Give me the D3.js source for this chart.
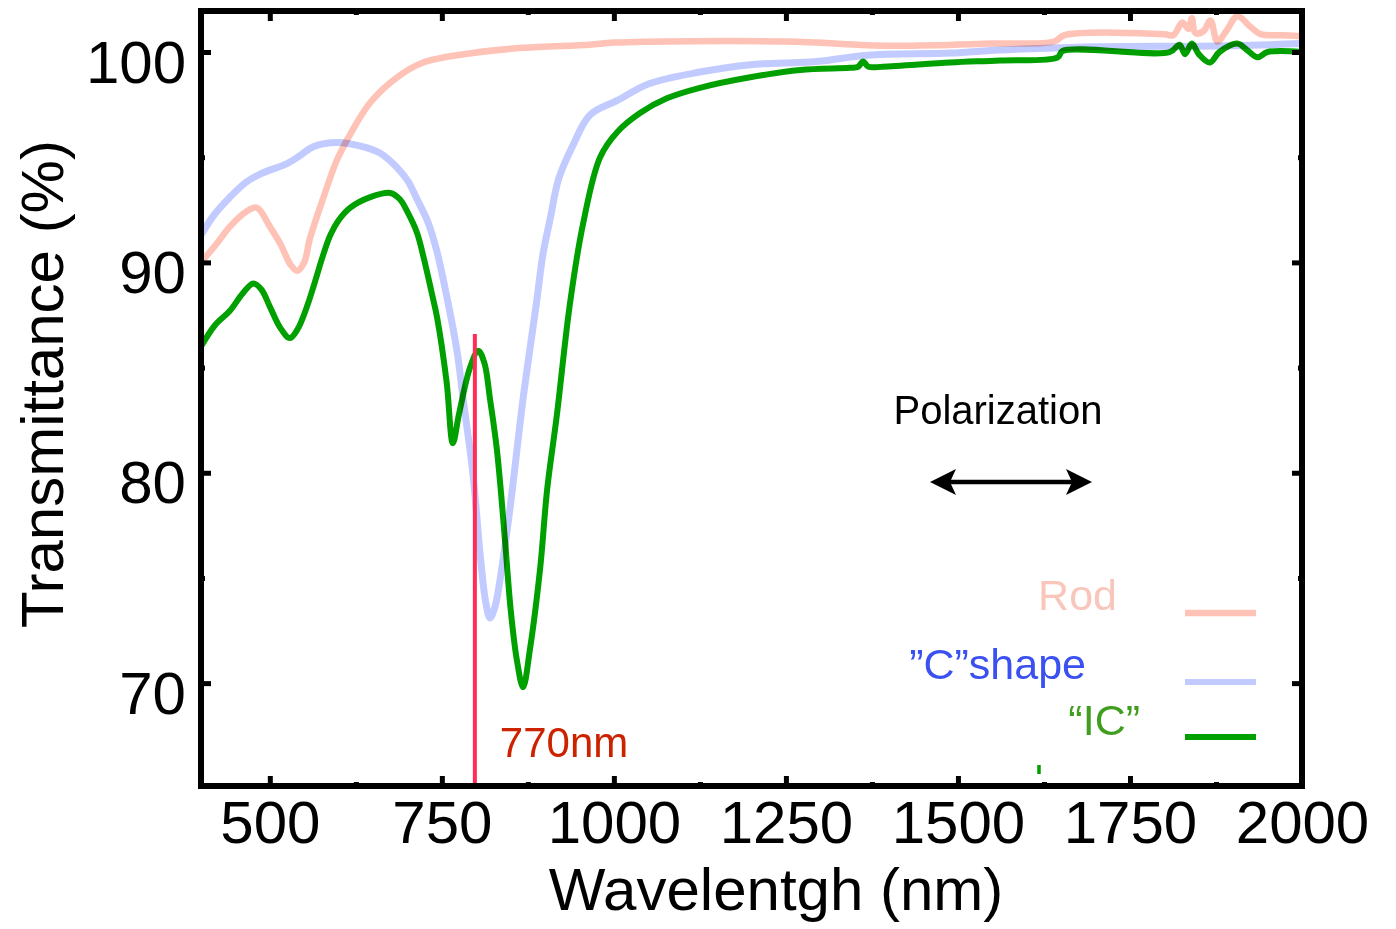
<!DOCTYPE html>
<html>
<head>
<meta charset="utf-8">
<script src="https://cdn.jsdelivr.net/npm/d3@7"></script>
<style>
  body { margin: 0; background: #fff; }
  svg text { font-family: "Liberation Sans", Arial, sans-serif; }
</style>
</head>
<body>
<div id="main"></div>
<script>
// data (wavelength in nm, transmittance in %)
const rodWl = [400, 423, 442, 465, 481, 500, 515, 530, 540, 550, 558, 577, 598, 617, 646, 685, 723, 795, 868, 965,
    1000, 1250, 1400, 1550, 1640, 1655, 1800, 1813, 1826, 1835, 1840, 1845, 1857, 1867, 1877, 1890, 1906, 1925, 1940, 1970, 2000];
const rodT = [90.0, 90.9, 91.7, 92.4, 92.6, 91.7, 90.9, 89.9, 89.6, 90.0, 91.1, 93.0, 94.9, 96.1, 97.6, 98.8, 99.5, 99.95, 100.2, 100.35,
    100.45, 100.5, 100.3, 100.4, 100.5, 100.8, 100.85, 100.8, 101.4, 101.1, 101.6, 100.9, 101.0, 101.5, 100.5, 101.0, 101.7, 101.2, 100.85, 100.8, 100.75];

const cWl = [400, 420, 442, 465, 486, 525, 545, 563, 598, 635, 660, 679, 700, 714, 730, 743, 757, 772, 781, 795,
    806, 814, 820, 827, 835, 849, 868, 888, 897, 907, 920, 941, 965, 1005, 1052, 1125, 1198, 1295, 1368, 1489,
    1560, 1648, 1700, 1900, 2000];
const cT = [91.3, 92.3, 93.1, 93.8, 94.2, 94.7, 95.1, 95.5, 95.7, 95.5, 95.2, 94.7, 93.9, 93.0, 91.9, 90.5, 88.4, 85.8, 83.5, 80.0,
    76.0, 73.8, 73.1, 73.6, 75.0, 78.3, 83.5, 88.2, 90.4, 92.0, 94.0, 95.6, 97.0, 97.7, 98.5, 99.05, 99.4, 99.55, 99.85, 99.95,
    100.1, 100.2, 100.25, 100.3, 100.4];

const icWl = [400, 420, 442, 460, 476, 488, 500, 515, 529, 540, 554, 563, 577, 588, 600, 617, 646, 675, 689, 700, 714,
    723, 737, 743, 757, 766, 775, 791, 803, 812, 820, 830, 842, 850, 859, 868, 878, 893, 903, 917, 936,
    955, 980, 1005, 1038, 1077, 1125, 1198, 1271, 1343, 1355, 1362, 1370, 1391, 1489, 1561, 1645, 1652, 1808, 1822,
    1830, 1840, 1850, 1866, 1880, 1906, 1920, 1935, 1950, 2000];
const icT = [86.0, 87.0, 87.7, 88.5, 89.0, 88.7, 87.9, 86.9, 86.4, 86.8, 87.9, 88.8, 90.3, 91.3, 92.0, 92.6, 93.1, 93.3, 93.0, 92.4, 91.4,
    90.3, 88.3, 87.4, 84.3, 81.4, 82.8, 85.0, 85.8, 85.2, 83.5, 81.1, 76.7, 73.5, 71.1, 69.8, 71.6, 75.5, 79.2, 82.7, 88.0,
    91.8, 95.0, 96.2, 97.1, 97.8, 98.3, 98.8, 99.15, 99.25, 99.3, 99.55, 99.3, 99.3, 99.5, 99.6, 99.75, 100.05, 100.0, 100.35,
    99.9, 100.4, 99.9, 99.5, 100.0, 100.4, 100.1, 99.75, 100.0, 100.0];

const xMajor = [500, 750, 1000, 1250, 1500, 1750, 2000];
const xMinor = [625, 875, 1125, 1375, 1625, 1875];
const yMajor = [70, 80, 90, 100];
const yMinor = [75, 85, 95];

const markerWl = 798, markerTop = 86.6;   // the red "770nm" line

const legendNames = ["Rod", "\u201DC\u201Dshape", "\u201CIC\u201D"];
const legendText = ["#f9c6bc", "#3a50f0", "#3f9e1e"];
const lineColors = ["#ffc2b6", "#c2cbff", "#00a000"];

// dimensions
const svg_width = 1396, svg_height = 929;
const margin = {top: 11, right: 94, bottom: 143, left: 201};
const graph_width = svg_width - margin.left - margin.right,
    graph_height = svg_height - margin.top - margin.bottom;

var svg = d3.select("#main").append("svg")
    .attr("width", svg_width)
    .attr("height", svg_height)
    .append("g")
    .attr("transform", `translate(${margin.left}, ${margin.top})`);

var xScale = d3.scaleLinear().domain([400, 2000]).range([0, graph_width]);
var yScale = d3.scaleLinear().domain([65.11, 101.95]).range([graph_height, 0]);

// clip to the frame
svg.append("defs").append("clipPath").attr("id", "clip")
    .append("rect").attr("width", graph_width).attr("height", graph_height);
var plot = svg.append("g").attr("clip-path", "url(#clip)").style("isolation", "isolate");

var line = d3.line()
    .x(d => xScale(d[0]))
    .y(d => yScale(d[1]))
    .curve(d3.curveCatmullRom.alpha(0.5));

var series = [
    {name: "C", wl: cWl, t: cT, color: lineColors[1], w: 7},
    {name: "Rod", wl: rodWl, t: rodT, color: lineColors[0], w: 6.5},
    {name: "IC", wl: icWl, t: icT, color: lineColors[2], w: 6}
];
series.forEach(function(s) {
    plot.append("path")
        .datum(s.wl.map((w, i) => [w, s.t[i]]))
        .attr("fill", "none")
        .attr("stroke", s.color)
        .attr("stroke-width", s.w)
        .attr("stroke-linejoin", "round")
        .style("mix-blend-mode", "multiply")
        .attr("d", line);
});

// red marker line
svg.append("line")
    .attr("x1", xScale(markerWl)).attr("x2", xScale(markerWl))
    .attr("y1", yScale(markerTop)).attr("y2", graph_height)
    .attr("stroke", "#ff2d55").attr("stroke-width", 4);
svg.append("text")
    .attr("x", xScale(markerWl) + 25).attr("y", 746)
    .attr("font-size", 42).attr("fill", "#cc2200")
    .text("770nm");

// axes: inward ticks on all four sides
function styleAxis(g) {
    g.select(".domain").remove();
    g.selectAll(".tick line").attr("stroke", "#000").attr("stroke-width", 5);
}
svg.append("g").attr("transform", `translate(0,${graph_height})`)
    .call(d3.axisBottom(xScale).tickValues(xMajor).tickSizeInner(-10).tickSizeOuter(0).tickPadding(14).tickFormat(d3.format("d")))
    .call(styleAxis)
    .call(g => g.selectAll("text").attr("font-size", 60).attr("fill", "#000"));
svg.append("g").attr("transform", `translate(0,${graph_height})`)
    .call(d3.axisBottom(xScale).tickValues(xMinor).tickSizeInner(-4).tickSizeOuter(0).tickFormat(""))
    .call(styleAxis);
svg.append("g")
    .call(d3.axisTop(xScale).tickValues(xMajor).tickSizeInner(-10).tickSizeOuter(0).tickFormat(""))
    .call(styleAxis);
svg.append("g")
    .call(d3.axisTop(xScale).tickValues(xMinor).tickSizeInner(-4).tickSizeOuter(0).tickFormat(""))
    .call(styleAxis);
svg.append("g")
    .call(d3.axisLeft(yScale).tickValues(yMajor).tickSizeInner(-10).tickSizeOuter(0).tickPadding(15).tickFormat(d3.format("d")))
    .call(styleAxis)
    .call(g => g.selectAll("text").attr("font-size", 60).attr("fill", "#000").attr("dy", "0.5em"));
svg.append("g")
    .call(d3.axisLeft(yScale).tickValues(yMinor).tickSizeInner(-4).tickSizeOuter(0).tickFormat(""))
    .call(styleAxis);
svg.append("g").attr("transform", `translate(${graph_width},0)`)
    .call(d3.axisRight(yScale).tickValues(yMajor).tickSizeInner(-10).tickSizeOuter(0).tickFormat(""))
    .call(styleAxis);
svg.append("g").attr("transform", `translate(${graph_width},0)`)
    .call(d3.axisRight(yScale).tickValues(yMinor).tickSizeInner(-4).tickSizeOuter(0).tickFormat(""))
    .call(styleAxis);

// frame
svg.append("rect")
    .attr("width", graph_width).attr("height", graph_height)
    .attr("fill", "none").attr("stroke", "#000").attr("stroke-width", 6);

// axis titles
svg.append("text")
    .attr("x", 776 - margin.left).attr("y", 910 - margin.top)
    .attr("text-anchor", "middle").attr("font-size", 60)
    .text("Wavelentgh (nm)");
svg.append("text")
    .attr("transform", `translate(${63 - margin.left},${384 - margin.top}) rotate(-90)`)
    .attr("text-anchor", "middle").attr("font-size", 60)
    .text("Transmittance (%)");

// polarization note
svg.append("text")
    .attr("x", 998 - margin.left).attr("y", 424 - margin.top)
    .attr("text-anchor", "middle").attr("font-size", 40)
    .text("Polarization");
var ay = 482 - margin.top, ax0 = 930 - margin.left, ax1 = 1092 - margin.left;
svg.append("line")
    .attr("x1", ax0 + 10).attr("x2", ax1 - 10).attr("y1", ay).attr("y2", ay)
    .attr("stroke", "#000").attr("stroke-width", 4.5);
svg.append("path")
    .attr("d", `M${ax0},${ay} L${ax0 + 26},${ay - 13} L${ax0 + 20},${ay} L${ax0 + 26},${ay + 13} Z`
        + `M${ax1},${ay} L${ax1 - 26},${ay - 13} L${ax1 - 20},${ay} L${ax1 - 26},${ay + 13} Z`)
    .attr("fill", "#000");

// legend
var legendY = [613, 682, 737];
var legendTextX = [1117, 1086, 1140];
var legendW = [6.5, 6, 6];
legendNames.forEach(function(n, i) {
    svg.append("text")
        .attr("x", legendTextX[i] - margin.left).attr("y", legendY[i] - 3 - margin.top + (i === 2 ? 1 : 0))
        .attr("text-anchor", "end").attr("font-size", 43)
        .attr("fill", legendText[i])
        .text(n);
    svg.append("line")
        .attr("x1", 1185 - margin.left).attr("x2", 1256 - margin.left)
        .attr("y1", legendY[i] - margin.top).attr("y2", legendY[i] - margin.top)
        .attr("stroke", lineColors[i])
        .attr("stroke-width", legendW[i]);
});
// small stray green mark near the bottom axis
svg.append("line")
    .attr("x1", 1039 - margin.left).attr("x2", 1039 - margin.left)
    .attr("y1", 765 - margin.top).attr("y2", 774 - margin.top)
    .attr("stroke", "#00a000").attr("stroke-width", 3.5);
</script>
</body>
</html>
